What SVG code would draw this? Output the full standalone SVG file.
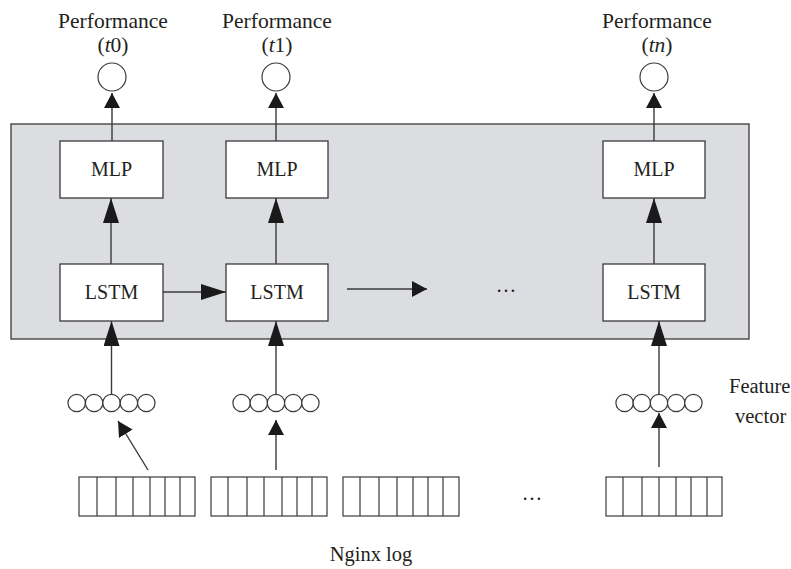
<svg xmlns="http://www.w3.org/2000/svg" width="791" height="569" viewBox="0 0 791 569">
<style>
  .t { font-family: "Liberation Serif", "Times New Roman", serif; fill: #231f20; font-size: 20.5px; }
  .lbl { font-size: 21.5px; }
  .bx { font-size: 20px; }
  .mid { text-anchor: middle; }
  .box { fill: #ffffff; stroke: #3a3a3a; stroke-width: 1.3; }
  .ln { stroke: #3a3a3a; stroke-width: 1.4; fill: none; }
  .c { fill: #ffffff; stroke: #3a3a3a; stroke-width: 1.2; }
  .cell { fill: #ffffff; stroke: #3a3a3a; stroke-width: 1.2; }
  .div { stroke: #3a3a3a; stroke-width: 1.2; fill: none; }
  .it { font-style: italic; }
</style>
<defs>
  <marker id="big" markerUnits="userSpaceOnUse" markerWidth="26" markerHeight="18" refX="25" refY="8" orient="auto">
    <polygon points="0,0 25,8 0,16" fill="#1a1a1a"/>
  </marker>
  <marker id="small" markerUnits="userSpaceOnUse" markerWidth="16" markerHeight="18" refX="15" refY="8" orient="auto">
    <polygon points="0,0 15,8 0,16" fill="#1a1a1a"/>
  </marker>
</defs>

<rect id="container" x="11" y="124" width="738" height="215" fill="#dcdde0" stroke="#3a3a3a" stroke-width="1.3"/>

<g id="connectors">
  <line class="ln" x1="112" y1="141" x2="112" y2="93" marker-end="url(#small)"/>
  <line class="ln" x1="276" y1="141" x2="276" y2="93" marker-end="url(#small)"/>
  <line class="ln" x1="654" y1="141" x2="654" y2="93" marker-end="url(#small)"/>
  <line class="ln" x1="111" y1="264" x2="111" y2="198" marker-end="url(#big)"/>
  <line class="ln" x1="276" y1="264" x2="276" y2="198" marker-end="url(#big)"/>
  <line class="ln" x1="654" y1="264" x2="654" y2="198" marker-end="url(#big)"/>
  <line class="ln" x1="163" y1="292" x2="226" y2="292" marker-end="url(#big)"/>
  <line class="ln" x1="347" y1="289" x2="427" y2="289" marker-end="url(#small)"/>
  <line class="ln" x1="111.5" y1="394.5" x2="111.5" y2="321" marker-end="url(#big)"/>
  <line class="ln" x1="276" y1="394.5" x2="276" y2="321" marker-end="url(#big)"/>
  <line class="ln" x1="659" y1="394.5" x2="659" y2="321" marker-end="url(#big)"/>
  <line class="ln" x1="148" y1="470" x2="118" y2="421" marker-end="url(#small)"/>
  <line class="ln" x1="276" y1="470" x2="276" y2="420" marker-end="url(#small)"/>
  <line class="ln" x1="659" y1="467" x2="659" y2="413" marker-end="url(#small)"/>
</g>

<g id="out0">
  <text class="t lbl mid" x="113" y="28">Performance</text>
  <text class="t lbl mid" x="113" y="52">(<tspan class="it">t</tspan>0)</text>
  <circle class="c" cx="112" cy="77" r="14"/>
</g>
<g id="out1">
  <text class="t lbl mid" x="277" y="28">Performance</text>
  <text class="t lbl mid" x="277" y="52">(<tspan class="it">t</tspan>1)</text>
  <circle class="c" cx="276" cy="77" r="14"/>
</g>
<g id="outn">
  <text class="t lbl mid" x="657" y="28">Performance</text>
  <text class="t lbl mid" x="657" y="52">(<tspan class="it">tn</tspan>)</text>
  <circle class="c" cx="654" cy="77" r="14"/>
</g>

<g id="mlp0"><rect class="box" x="60" y="141" width="103" height="57"/><text class="t bx mid" x="111.5" y="176">MLP</text></g>
<g id="mlp1"><rect class="box" x="226" y="141" width="102" height="57"/><text class="t bx mid" x="277" y="176">MLP</text></g>
<g id="mlpn"><rect class="box" x="603" y="141" width="102" height="57"/><text class="t bx mid" x="654" y="176">MLP</text></g>

<g id="lstm0"><rect class="box" x="60" y="264" width="103" height="57"/><text class="t bx mid" x="111.5" y="299">LSTM</text></g>
<g id="lstm1"><rect class="box" x="226" y="264" width="102" height="57"/><text class="t bx mid" x="277" y="299">LSTM</text></g>
<g id="lstmn"><rect class="box" x="603" y="264" width="102" height="57"/><text class="t bx mid" x="654" y="299">LSTM</text></g>

<g id="dots-mid"><text class="t mid" x="506" y="292">…</text></g>

<g id="feat0">
  <circle class="c" cx="76.7" cy="403" r="8.7"/><circle class="c" cx="94.1" cy="403" r="8.7"/><circle class="c" cx="111.5" cy="403" r="8.7"/><circle class="c" cx="128.9" cy="403" r="8.7"/><circle class="c" cx="146.3" cy="403" r="8.7"/>
</g>
<g id="feat1">
  <circle class="c" cx="241.6" cy="403" r="8.7"/><circle class="c" cx="258.8" cy="403" r="8.7"/><circle class="c" cx="276" cy="403" r="8.7"/><circle class="c" cx="293.2" cy="403" r="8.7"/><circle class="c" cx="310.4" cy="403" r="8.7"/>
</g>
<g id="featn">
  <circle class="c" cx="624.6" cy="403" r="8.7"/><circle class="c" cx="641.8" cy="403" r="8.7"/><circle class="c" cx="659" cy="403" r="8.7"/><circle class="c" cx="676.2" cy="403" r="8.7"/><circle class="c" cx="693.4" cy="403" r="8.7"/>
</g>
<g id="feature-label">
  <text class="t" x="729" y="393">Feature</text>
  <text class="t" x="735" y="423">vector</text>
</g>

<g id="log0">
  <rect class="cell" x="79" y="477" width="116" height="39"/>
  <path class="div" d="M97 477V516M116 477V516M133 477V516M150 477V516M165 477V516M180 477V516"/>
</g>
<g id="log1">
  <rect class="cell" x="211" y="477" width="116" height="39"/>
  <path class="div" d="M228 477V516M247 477V516M264 477V516M282 477V516M297 477V516M312 477V516"/>
</g>
<g id="log2">
  <rect class="cell" x="343" y="477" width="116" height="39"/>
  <path class="div" d="M360 477V516M379 477V516M397 477V516M413 477V516M428 477V516M443 477V516"/>
</g>
<g id="dots-log"><text class="t mid" x="532" y="500">…</text></g>
<g id="logn">
  <rect class="cell" x="606" y="477" width="116" height="39"/>
  <path class="div" d="M623 477V516M642 477V516M659 477V516M676 477V516M691 477V516M707 477V516"/>
</g>
<g id="nginx-label"><text class="t mid" x="371" y="561">Nginx log</text></g>
</svg>
